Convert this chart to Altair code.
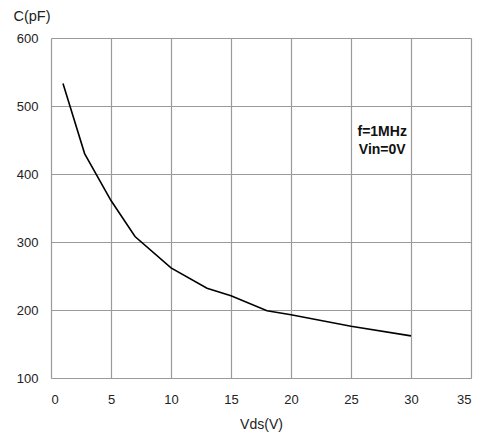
import altair as alt
import pandas as pd

vds = [1, 2.8, 5, 7, 10, 13, 15, 18, 20, 25, 30]
cap = [533, 430, 361, 308, 262, 232, 221, 199, 193, 176, 162]

x_ticks = [0, 5, 10, 15, 20, 25, 30, 35]
y_ticks = [100, 200, 300, 400, 500, 600]

note_lines = ["f=1MHz", "Vin=0V"]
note_x = [27.6, 27.6]
note_y = [462, 435]

df = pd.DataFrame({"vds": vds, "cap": cap})
notes = pd.DataFrame({"t": note_lines, "x": note_x, "y": note_y})

FONT = "Liberation Sans"

xs = alt.Scale(domain=[0, 35], nice=False, zero=False)
ys = alt.Scale(domain=[100, 600], nice=False, zero=False)

line = alt.Chart(df).mark_line(color="black", strokeWidth=1.6).encode(
    x=alt.X("vds:Q", scale=xs, axis=alt.Axis(
        values=x_ticks, title="Vds(V)", grid=True, gridColor="#9a9a9a", gridWidth=1.2,
        domain=False, ticks=False, labelPadding=15, labelFontSize=13, labelFont=FONT,
        labelColor="#222", titleFont=FONT, titleFontSize=14, titleFontWeight="normal",
        titleColor="#222", titleY=46, titleBaseline="middle")),
    y=alt.Y("cap:Q", scale=ys, axis=alt.Axis(
        values=y_ticks, title="C(pF)", grid=True, gridColor="#9a9a9a", gridWidth=1.2,
        domain=False, ticks=False, labelPadding=13, labelFontSize=13, labelFont=FONT,
        labelColor="#222", titleFont=FONT, titleFontSize=14.5, titleFontWeight="normal",
        titleColor="#222", titleAngle=0, titleAlign="left", titleBaseline="middle",
        titleX=-38, titleY=-22)),
)

text = alt.Chart(notes).mark_text(font=FONT, fontSize=14, fontWeight="bold",
                                   color="#111", align="center", baseline="middle").encode(
    x=alt.X("x:Q", scale=xs), y=alt.Y("y:Q", scale=ys), text="t:N")

chart = (line + text).properties(
    width=420, height=340,
    autosize=alt.AutoSizeParams(type="none"),
    padding={"left": 43, "top": 30, "right": 9, "bottom": 58},
).configure_view(stroke="black", strokeWidth=1.5).configure(background="white")

chart.save("out.html", embed_options={"renderer": "svg", "actions": False})
